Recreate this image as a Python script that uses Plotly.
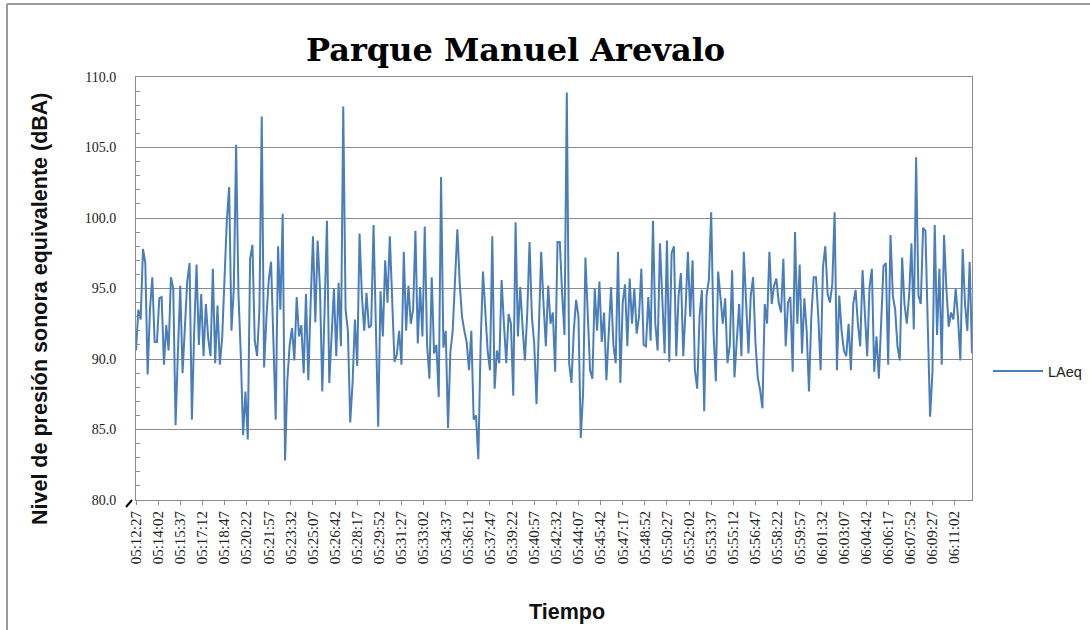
import plotly.graph_objects as go

# ---------------- data ----------------
START = "05:12:27"
STEP_S = 10  # seconds between plotted samples

tick_labels = [
    "05:12:27", "05:14:02", "05:15:37", "05:17:12", "05:18:47", "05:20:22",
    "05:21:57", "05:23:32", "05:25:07", "05:26:42", "05:28:17", "05:29:52",
    "05:31:27", "05:33:02", "05:34:37", "05:36:12", "05:37:47", "05:39:22",
    "05:40:57", "05:42:32", "05:44:07", "05:45:42", "05:47:17", "05:48:52",
    "05:50:27", "05:52:02", "05:53:37", "05:55:12", "05:56:47", "05:58:22",
    "05:59:57", "06:01:32", "06:03:07", "06:04:42", "06:06:17", "06:07:52",
    "06:09:27", "06:11:02",
]

laeq_part1 = [90.6, 93.5, 92.8, 97.8, 96.8, 88.9, 93.5, 95.8, 91.2, 91.2, 94.3, 94.4,
              89.6, 92.4, 90.6, 95.8, 95.0, 85.3, 90.5, 95.2, 89.0, 92.4, 95.5, 96.8,
              85.7, 92.0, 96.7, 91.0, 94.6, 90.2, 93.9, 91.5, 90.2, 96.4, 89.7, 93.8]
laeq_part2 = [89.6, 91.5, 96.4, 99.8, 102.2, 92.0, 95.0, 105.2, 94.6, 90.3, 84.6, 87.7,
              84.3, 97.1, 98.1, 91.3, 90.2, 93.5, 107.2, 89.4, 92.9, 95.6, 96.9, 91.8,
              85.7, 98.0, 93.5, 100.3, 82.8, 88.5, 91.0, 92.2, 89.9, 94.4, 91.6, 92.4, 89.0]
laeq_part3 = [94.6, 88.5, 94.0, 98.7, 92.6, 98.4, 95.0, 87.7, 93.5, 99.8, 88.3, 92.0,
              95.0, 90.2, 95.4, 90.9, 107.9, 93.5, 92.0, 85.5, 88.3, 92.8, 89.5, 98.9,
              94.5, 92.0, 94.7, 92.2, 92.4, 99.5, 92.5, 85.2, 94.8, 91.6, 97.0, 94.0, 98.7]
laeq_part4 = [93.9, 89.8, 90.3, 92.0, 89.6, 97.6, 92.0, 95.2, 92.5, 93.5, 99.1, 91.1,
              95.1, 91.6, 99.4, 91.0, 88.6, 95.8, 90.4, 91.0, 87.3, 102.9, 90.8, 92.0,
              85.1, 90.5, 92.0, 96.1, 99.2, 95.4, 93.0, 92.0, 91.2, 89.2, 92.0, 85.7]
laeq_part5 = [86.0, 82.9, 91.1, 96.2, 93.0, 90.6, 89.2, 98.7, 87.9, 90.6, 89.7, 95.6,
              92.5, 89.7, 93.2, 92.5, 87.4, 99.7, 91.6, 95.1, 92.3, 89.9, 93.2, 98.3,
              93.0, 91.1, 86.8, 93.0, 97.6, 93.9, 90.9, 95.2, 92.5, 93.3, 89.1, 98.3]
laeq_part6 = [98.3, 94.6, 91.7, 108.9, 89.7, 88.3, 92.0, 94.2, 93.0, 84.4, 87.6, 97.2,
              92.5, 89.2, 88.6, 95.0, 92.0, 95.5, 91.2, 93.3, 88.5, 91.6, 95.1, 91.0,
              89.7, 97.6, 88.3, 94.0, 95.3, 90.9, 95.7, 92.5, 95.0, 91.8, 93.0, 96.4, 91.0]
laeq_part7 = [90.9, 94.4, 91.3, 99.8, 92.5, 90.6, 98.2, 94.8, 90.4, 98.4, 89.8, 97.5,
              98.0, 90.2, 94.5, 96.1, 90.2, 93.5, 97.6, 93.0, 97.0, 89.2, 87.9, 93.0,
              94.9, 86.3, 94.5, 95.6, 100.4, 91.9, 88.4, 96.2, 94.4, 92.5, 94.3, 89.7]
laeq_part8 = [91.0, 96.3, 88.7, 91.1, 93.9, 90.2, 97.6, 94.0, 90.4, 94.5, 95.8, 91.2,
              88.7, 87.8, 86.5, 93.9, 92.5, 97.6, 93.9, 95.2, 95.7, 94.0, 93.3, 97.1,
              90.9, 94.0, 94.4, 89.1, 99.0, 92.5, 96.7, 90.4, 94.3, 92.0, 87.7, 93.0, 95.8]
laeq_part9 = [95.8, 93.0, 89.2, 96.5, 98.0, 94.6, 94.0, 95.3, 100.4, 89.2, 94.5, 92.0,
              90.6, 90.2, 92.5, 89.2, 93.9, 94.9, 92.5, 90.9, 96.3, 93.0, 90.2, 95.1,
              96.4, 89.1, 91.6, 88.6, 92.5, 96.6, 96.8, 89.6, 98.8, 94.5]
laeq_part10 = [93.5, 90.9, 89.9, 97.2, 93.9, 92.5, 94.5, 98.2, 92.1, 104.3, 94.5, 93.9,
               99.3, 99.1, 92.5, 85.9, 89.0, 99.5, 91.7, 96.4, 89.6, 98.8, 95.0, 92.3,
               93.3, 92.8, 95.0, 92.9, 89.9, 97.8, 93.9, 92.0, 96.9, 90.4]

laeq = (laeq_part1 + laeq_part2 + laeq_part3 + laeq_part4 + laeq_part5 +
        laeq_part6 + laeq_part7 + laeq_part8 + laeq_part9 + laeq_part10)


def to_s(hms):
    h, m, s = map(int, hms.split(":"))
    return h * 3600 + m * 60 + s


t0 = to_s(START)
x = [i * STEP_S for i in range(len(laeq))]
tickvals = [to_s(lbl) - t0 for lbl in tick_labels]

# ---------------- layout geometry ----------------
W, H = 1090, 630
L, R, T, B = 136, 972, 77, 500
pw, ph = R - L, B - T


def px(X):
    return (X - L) / pw


def py(Y):
    return (B - Y) / ph


GRID = "#8c8c8c"
LINE_BLUE = "#4a7ebb"

fig = go.Figure()
fig.add_trace(go.Scatter(
    x=x, y=laeq, mode="lines", name="LAeq",
    line=dict(color=LINE_BLUE, width=2),
))

fig.update_layout(
    width=W, height=H,
    margin=dict(l=L, r=W - R, t=T, b=H - B, autoexpand=False),
    paper_bgcolor="white", plot_bgcolor="white",
    showlegend=True,
    legend=dict(x=px(988), y=py(371), xanchor="left", yanchor="middle",
                itemwidth=50,
                font=dict(family="Liberation Sans", size=14.5, color="#222"),
                bgcolor="rgba(0,0,0,0)"),
    xaxis=dict(
        range=[0, x[-1]],
        tickmode="array", tickvals=tickvals, ticktext=tick_labels,
        tickangle=-90,
        tickfont=dict(family="Liberation Serif", size=15, color="#222"),
        showgrid=False, zeroline=False,
        showline=True, linecolor=GRID, linewidth=1, mirror=True,
        ticks="outside", ticklen=4, tickcolor=GRID,
    ),
    yaxis=dict(
        range=[80, 110], dtick=5, tickformat=".1f",
        tickfont=dict(family="Liberation Serif", size=14, color="#222"),
        showgrid=True, gridcolor=GRID, gridwidth=1, zeroline=False,
        showline=True, linecolor=GRID, linewidth=1, mirror=True,
        ticks="inside", ticklen=5, tickcolor=GRID,
        minor=dict(dtick=1, ticks="inside", ticklen=4, tickcolor=GRID, showgrid=False),
        ticklabelstandoff=16,
    ),
    annotations=[
        dict(text="<b>Parque Manuel Arevalo</b>", x=px(515), y=py(50),
             xref="paper", yref="paper", showarrow=False,
             xanchor="center", yanchor="middle",
             font=dict(family="DejaVu Serif", size=32, color="black")),
        dict(text="<b>Nivel de presión sonora equivalente (dBA)</b>", x=px(40), y=py(309),
             xref="paper", yref="paper", showarrow=False, textangle=-90,
             xanchor="center", yanchor="middle",
             font=dict(family="Liberation Sans", size=21.5, color="#111")),
        dict(text="<b>Tiempo</b>", x=px(567), y=py(612),
             xref="paper", yref="paper", showarrow=False,
             xanchor="center", yanchor="middle",
             font=dict(family="Liberation Sans", size=21.5, color="#111")),
    ],
    shapes=[
        # axis break mark
        dict(type="line", xref="paper", yref="paper",
             x0=px(126), y0=py(507), x1=px(132), y1=py(500),
             line=dict(color="black", width=2)),
        # outer chart border (left and top edges visible in the frame)
        dict(type="line", xref="paper", yref="paper",
             x0=px(7), y0=py(4), x1=px(7), y1=py(640),
             line=dict(color="#9a9a9a", width=2)),
        dict(type="line", xref="paper", yref="paper",
             x0=px(7), y0=py(4), x1=px(1095), y1=py(4),
             line=dict(color="#9a9a9a", width=2)),
    ],
)

fig.write_html("out.html", config={"displayModeBar": False},
               post_script="document.body.style.margin='0';")
